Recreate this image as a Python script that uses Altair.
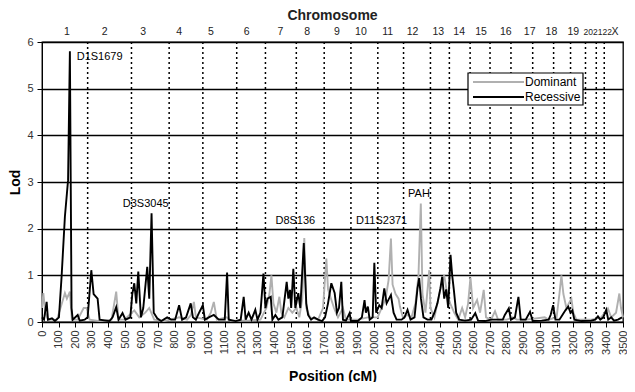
import altair as alt
import pandas as pd

FONT = "Liberation Sans"

# Recessive model LOD curve (position cM, lod)
rec_pos = [0, 12, 28, 36, 60, 78, 102, 118, 138, 157, 168, 178, 185, 215, 227, 257, 275, 297, 311, 323,
           335, 347, 407, 425, 447, 461, 485, 503, 532, 544, 556, 568, 580, 596, 610, 634, 646, 660, 673, 694,
           718, 754, 778, 802, 826, 844, 868, 896, 909, 927, 945, 969, 981, 1005, 1035, 1065, 1101, 1115, 1125, 1167,
           1197, 1215, 1227, 1245, 1262, 1285, 1298, 1316, 1334, 1346, 1358, 1378, 1388, 1406, 1424, 1448, 1474, 1484, 1494, 1501,
           1514, 1526, 1544, 1556, 1577, 1592, 1603, 1621, 1639, 1663, 1687, 1705, 1723, 1743, 1763, 1777, 1789, 1803, 1813, 1831,
           1853, 1861, 1903, 1927, 1943, 1951, 1963, 1974, 1992, 2002, 2013, 2032, 2046, 2062, 2076, 2102, 2118, 2136, 2166, 2184,
           2202, 2220, 2244, 2262, 2272, 2283, 2298, 2322, 2346, 2364, 2382, 2400, 2411, 2423, 2435, 2447, 2461, 2471, 2481, 2495,
           2513, 2549, 2585, 2610, 2627, 2669, 2705, 2776, 2788, 2812, 2825, 2849, 2870, 2884, 2914, 2940, 2956, 3010, 3052, 3064,
           3079, 3093, 3117, 3135, 3153, 3170, 3184, 3195, 3207, 3249, 3309, 3333, 3349, 3363, 3381, 3399, 3411, 3429, 3446, 3470,
           3494]
rec_lod = [0.1, 0.05, 0.43, 0.05, 0.08, 0.02, 0.1, 0.97, 2.26, 3.04, 5.8, 0.3, 0.05, 0.15, 0.03, 0.05, 0.1, 1.11, 0.6, 0.55,
           0.5, 0.05, 0.02, 0.1, 0.32, 0.05, 0.19, 0.05, 0.1, 0.6, 0.83, 0.4, 1.08, 0.1, 0.3, 1.18, 0.5, 2.33, 0.2, 0.08,
           0.02, 0.1, 0.05, 0.05, 0.36, 0.05, 0.1, 0.4, 0.1, 0.05, 0.19, 0.36, 0.05, 0.1, 0.15, 0.05, 0.05, 1.06, 0.05, 0.02,
           0.05, 0.54, 0.05, 0.2, 0.05, 0.26, 0.05, 0.2, 1.04, 0.3, 0.5, 0.54, 0.05, 0.15, 0.05, 0.1, 0.86, 0.5, 0.69, 0.3,
           1.14, 0.3, 0.62, 0.3, 1.69, 0.4, 0.15, 0.05, 0.1, 0.05, 0.02, 0.1, 0.4, 0.83, 0.62, 0.2, 0.3, 0.86, 0.05, 0.03,
           0.19, 0.02, 0.02, 0.1, 0.47, 0.2, 0.33, 0.05, 0.1, 1.27, 0.2, 0.36, 0.3, 0.72, 0.4, 0.58, 0.2, 0.05, 0.05, 0.1,
           0.26, 0.05, 0.1, 0.72, 0.94, 0.5, 0.1, 0.05, 0.05, 0.2, 0.4, 0.72, 0.97, 0.5, 0.7, 0.3, 1.44, 1.0, 0.69, 0.2,
           0.05, 0.03, 0.05, 0.19, 0.03, 0.02, 0.05, 0.05, 0.15, 0.29, 0.05, 0.1, 0.54, 0.05, 0.05, 0.22, 0.02, 0.03, 0.05, 0.15,
           0.36, 0.05, 0.05, 0.15, 0.25, 0.33, 0.2, 0.25, 0.05, 0.02, 0.03, 0.05, 0.12, 0.05, 0.1, 0.26, 0.05, 0.1, 0.03, 0.05,
           0.1]

# Dominant model LOD curve (position cM, lod)
dom_pos = [0, 8, 20, 36, 90, 120, 138, 150, 168, 180, 215, 251, 269, 287, 347, 419, 447, 461, 497, 556,
           586, 622, 646, 676, 736, 826, 874, 897, 915, 927, 993, 1017, 1035, 1053, 1113, 1137, 1245, 1316, 1352, 1370,
           1382, 1394, 1412, 1430, 1442, 1460, 1484, 1508, 1532, 1550, 1568, 1580, 1592, 1615, 1663, 1693, 1713, 1723, 1741, 1759,
           1783, 1813, 1831, 1903, 1963, 2022, 2046, 2070, 2088, 2102, 2112, 2130, 2148, 2156, 2174, 2202, 2226, 2250, 2268, 2282,
           2292, 2310, 2333, 2340, 2364, 2388, 2406, 2423, 2441, 2459, 2483, 2507, 2531, 2549, 2567, 2581, 2597, 2621, 2639, 2661,
           2675, 2705, 2729, 2747, 2800, 2836, 2860, 2920, 3028, 3052, 3100, 3117, 3129, 3141, 3159, 3189, 3201, 3219, 3309, 3369,
           3409, 3429, 3458, 3478, 3488, 3500]
dom_lod = [0.3, 0.62, 0.2, 0.05, 0.05, 0.4, 0.62, 0.5, 0.65, 0.05, 0.05, 0.3, 0.3, 0.05, 0.02, 0.05, 0.65, 0.05, 0.05, 0.25,
           0.1, 0.2, 0.3, 0.05, 0.02, 0.1, 0.05, 0.15, 0.43, 0.1, 0.05, 0.2, 0.43, 0.05, 0.1, 0.03, 0.03, 0.05, 0.3, 0.6,
           1.0, 0.4, 0.2, 0.54, 0.2, 0.1, 0.3, 0.2, 0.3, 0.1, 0.5, 1.8, 0.3, 0.1, 0.05, 0.3, 1.36, 0.7, 0.5, 0.3,
           0.1, 0.3, 0.05, 0.05, 0.1, 0.1, 0.3, 0.5, 0.9, 1.79, 0.8, 0.6, 0.5, 0.33, 0.1, 0.15, 0.1, 0.4, 1.0, 2.54,
           0.6, 0.2, 1.11, 0.3, 0.1, 0.5, 0.8, 1.0, 0.6, 0.4, 0.2, 0.05, 0.3, 0.1, 0.4, 0.95, 0.3, 0.47, 0.2, 0.69,
           0.1, 0.05, 0.23, 0.05, 0.05, 0.1, 0.05, 0.05, 0.1, 0.05, 0.1, 0.6, 1.0, 0.6, 0.3, 0.5, 0.2, 0.05, 0.05, 0.1,
           0.29, 0.1, 0.2, 0.61, 0.3, 0.1]

series_names = ["Dominant", "Recessive"]
series_colors = ["#b0b0b0", "#000000"]

# Chromosome boundaries (cM) and label centres
boundaries = [275, 539, 766, 969, 1173, 1346, 1532, 1700, 1861, 2023, 2178, 2340, 2454, 2579, 2699,
              2825, 2956, 3082, 3184, 3274, 3339, 3387]
chrom_names = ["1", "2", "3", "4", "5", "6", "7", "8", "9", "10", "11", "12", "13", "14", "15",
               "16", "17", "18", "19", "X"]
chrom_centres = [150, 377, 610, 826, 1017, 1233, 1436, 1598, 1777, 1921, 2082, 2232, 2387, 2513, 2645,
                 2794, 2938, 3069, 3201, 3452]
small_chrom_names = ["20", "21", "22"]
small_chrom_centres = [3291, 3348, 3405]

# Marker annotations
marker_names = ["D3S3045", "D8S136", "D11S2371", "PAH"]
marker_pos = [625, 1526, 2046, 2271]
marker_lod = [2.53, 2.16, 2.16, 2.74]
top_marker = ["D1S1679"]
top_marker_pos = [209]
top_marker_lod = [5.68]

series = pd.concat([
    pd.DataFrame({"pos": dom_pos, "lod": dom_lod, "model": series_names[0]}),
    pd.DataFrame({"pos": rec_pos, "lod": rec_lod, "model": series_names[1]}),
], ignore_index=True)

W = 581
H = 280

x_scale = alt.Scale(domain=[0, 3500], nice=False, zero=False)
y_scale = alt.Scale(domain=[0, 6], nice=False)

x_axis = alt.Axis(values=list(range(0, 3501, 100)), format="d", labelAngle=270, title="Position (cM)",
                  grid=False, labelOverlap=False, labelFlush=False, tickSize=5,
                  tickColor="black", domainColor="black", labelFontSize=11,
                  labelColor="#333333", labelFont=FONT, titleFont=FONT, titleFontSize=14,
                  titleFontWeight="bold", titleX=W / 2, titleY=54, titleBaseline="middle",
                  labelPadding=3)
y_axis = alt.Axis(values=[0, 1, 2, 3, 4, 5, 6], title="Lod", grid=True, gridColor="black",
                  gridWidth=1.3, gridOpacity=1, tickSize=5, tickColor="black",
                  domainColor="black", labelFontSize=11, labelColor="#333333", labelFont=FONT,
                  titleFont=FONT, titleFontSize=14, titleFontWeight="bold",
                  titleX=-27, titleY=H / 2, titleBaseline="middle", titleAngle=270,
                  labelPadding=4)

rules = alt.Chart(pd.DataFrame({"b": boundaries})).mark_rule(
    color="black", strokeDash=[2, 3], strokeWidth=1.5
).encode(x=alt.X("b:Q", scale=x_scale, axis=x_axis))

lines = alt.Chart(series).mark_line(strokeWidth=1.9, interpolate="linear").encode(
    x=alt.X("pos:Q", scale=x_scale, axis=x_axis),
    y=alt.Y("lod:Q", scale=y_scale, axis=y_axis),
    color=alt.Color("model:N", scale=alt.Scale(domain=series_names, range=series_colors), legend=None),
)

chrom_text = alt.Chart(pd.DataFrame({"c": chrom_centres, "name": chrom_names})).mark_text(
    font=FONT, fontSize=10.5, color="#222222", baseline="middle"
).encode(x=alt.X("c:Q", scale=x_scale, axis=x_axis), y=alt.value(-10), text="name:N")

small_chrom_text = alt.Chart(pd.DataFrame({"c": small_chrom_centres, "name": small_chrom_names})).mark_text(
    font=FONT, fontSize=8.5, color="#222222", baseline="middle"
).encode(x=alt.X("c:Q", scale=x_scale, axis=x_axis), y=alt.value(-10), text="name:N")

chrom_title = alt.Chart(pd.DataFrame({"t": ["Chromosome"]})).mark_text(
    font=FONT, fontSize=14, fontWeight="bold", color="#222222", baseline="middle"
).encode(x=alt.value(W / 2), y=alt.value(-26), text="t:N")

marker_text = alt.Chart(pd.DataFrame({"p": marker_pos, "l": marker_lod, "n": marker_names})).mark_text(
    font=FONT, fontSize=11, color="black", baseline="middle", align="center"
).encode(x=alt.X("p:Q", scale=x_scale, axis=x_axis), y=alt.Y("l:Q", scale=y_scale, axis=y_axis), text="n:N")

top_text = alt.Chart(pd.DataFrame({"p": top_marker_pos, "l": top_marker_lod, "n": top_marker})).mark_text(
    font=FONT, fontSize=11, color="black", baseline="middle", align="left"
).encode(x=alt.X("p:Q", scale=x_scale, axis=x_axis), y=alt.Y("l:Q", scale=y_scale, axis=y_axis), text="n:N")

# Legend box drawn by hand (line samples 50 px long, as in the reference)
leg_df = pd.DataFrame({"k": [0]})
leg_box = alt.Chart(leg_df).mark_rect(fill="white", stroke="black", strokeWidth=1.2).encode(
    x=alt.value(426), x2=alt.value(541), y=alt.value(31), y2=alt.value(63))
leg_line_dom = alt.Chart(leg_df).mark_rule(color=series_colors[0], strokeWidth=2).encode(
    x=alt.value(431), x2=alt.value(482), y=alt.value(40))
leg_line_rec = alt.Chart(leg_df).mark_rule(color=series_colors[1], strokeWidth=2).encode(
    x=alt.value(431), x2=alt.value(482), y=alt.value(55))
leg_text_dom = alt.Chart(leg_df).mark_text(
    text=series_names[0], font=FONT, fontSize=12, align="left", baseline="middle", color="black"
).encode(x=alt.value(483), y=alt.value(40))
leg_text_rec = alt.Chart(leg_df).mark_text(
    text=series_names[1], font=FONT, fontSize=12, align="left", baseline="middle", color="black"
).encode(x=alt.value(483), y=alt.value(55))

chart = alt.layer(
    rules, lines, marker_text, top_text, chrom_text, small_chrom_text, chrom_title,
    leg_box, leg_line_dom, leg_line_rec, leg_text_dom, leg_text_rec
).properties(
    width=W, height=H,
    autosize=alt.AutoSizeParams(type="none"),
    padding={"left": 34, "top": 34, "right": 4, "bottom": 60},
).configure_view(stroke="black", strokeWidth=1.3)

chart.save("out.html", embed_options={"renderer": "svg", "actions": False})
